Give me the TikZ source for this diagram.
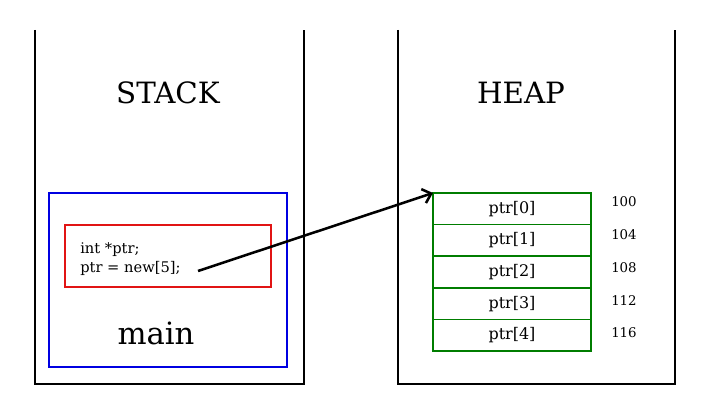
\documentclass[tikz,border=0pt]{standalone}
\usepackage{fontspec}
\setmainfont{DejaVu Serif}
\usetikzlibrary{positioning,arrows.meta}
\definecolor{cellgreen}{RGB}{0,125,0}
\definecolor{frameblue}{RGB}{0,0,225}
\definecolor{codered}{RGB}{225,20,20}

\begin{document}
\begin{tikzpicture}[x=0.75pt,y=-0.75pt,
    wall/.style={line width=1.8pt},
    title/.style={font=\fontsize{22}{26}\selectfont},
    frame/.style={draw=frameblue, line width=1.1pt, minimum width=178.5pt, minimum height=130.5pt},
    codebox/.style={draw=codered, line width=0.8pt, minimum width=154.5pt, minimum height=46.5pt},
    code/.style={font=\fontsize{11}{13}\selectfont, anchor=west, inner sep=0pt},
    cell/.style={draw=cellgreen, line width=1.1pt, minimum width=118.5pt, minimum height=23.7pt,
                 inner sep=0pt, outer sep=0pt, font=\fontsize{12}{14}\selectfont},
    addr/.style={font=\fontsize{10}{12}\selectfont, anchor=west, inner sep=0pt},
    pointer/.style={line width=1.9pt, -{Straight Barb[length=6pt,width=11pt]}}]
  \useasboundingbox (0,0) rectangle (708,420);

  % stack side
  \draw[wall] (35,30) -- (35,384) -- (304,384) -- (304,30);
  \node[title] (stacklabel) at (168,93) {STACK};
  \node[frame] (mainframe) at (168,280) {};
  \node[codebox] (codeframe) at (168,256) {};
  \node[code] (decl) at (80,250) {int *ptr;};
  \node[code] (alloc) at (80,268) {ptr = new[5];};
  \node[font=\fontsize{23}{27}\selectfont] (mainlabel) at (156,333) {main};

  % heap side
  \draw[wall] (398,30) -- (398,384) -- (675,384) -- (675,30);
  \node[title] (heaplabel) at (521,93) {HEAP};
  \node[cell] (cell0) at (512,208.8) {ptr[0]};
  \foreach \i [remember=\i as \prev (initially 0)] in {1,2,3,4}
    \node[cell, below=0pt of cell\prev] (cell\i) {ptr[\i]};
  % addresses
  \foreach \i/\a in {0/100,1/104,2/108,3/112,4/116}
    \node[addr] (addr\i) at (611,202+32.75*\i) {\a};

  % pointer
  \coordinate (ptrend) at (198,271);
  \draw[pointer] (ptrend) -- (cell0.north west);
\end{tikzpicture}
\end{document}
